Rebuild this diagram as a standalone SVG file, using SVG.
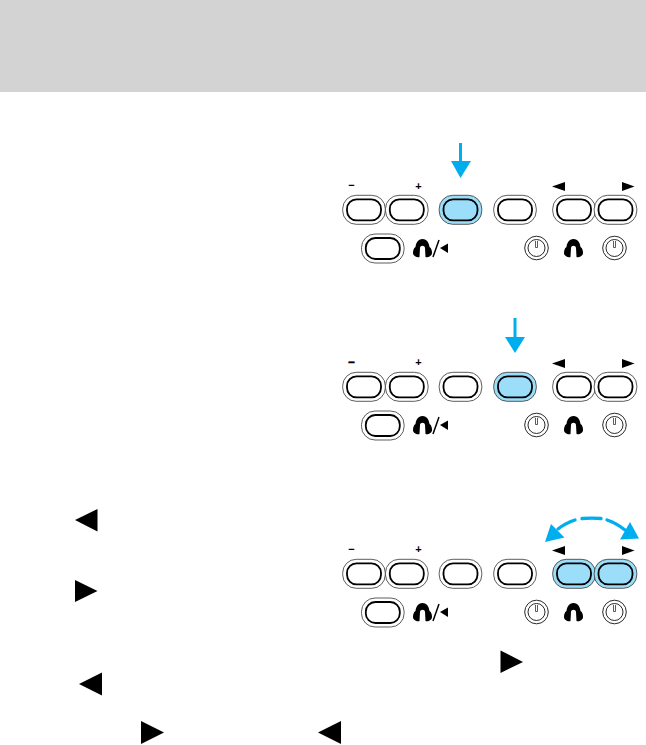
<svg xmlns="http://www.w3.org/2000/svg" width="646" height="745" viewBox="0 0 646 745">
<style>
.o{stroke:#333;stroke-width:.8}
.i{stroke:#000;stroke-width:1.800}
.off{fill:#fff}
.lit{fill:#9cdef9}
.k{fill:#000}
.b{fill:#00aeef}
.shaft{fill:none;stroke:#00aeef;stroke-width:3}
.arc{fill:none;stroke:#00aeef;stroke-width:3.300;stroke-linecap:round}
.sign{font-family:"Liberation Sans",Arial,sans-serif;font-weight:700;font-size:11px;text-anchor:middle;fill:#000}
.heavy{stroke:#000;stroke-width:.7}
.pw{fill:#fff;stroke:#111;stroke-width:.9}
</style>
<defs>
<g id="btn"><rect class="o off" x="-21.300" y="-14.500" width="42.600" height="29" rx="13.500"/><rect class="i off" x="-17" y="-10.500" width="34" height="21" rx="9.500"/></g>
<g id="btnon"><rect class="o lit" x="-21.300" y="-14.500" width="42.600" height="29" rx="13.500"/><rect class="i lit" x="-17" y="-10.500" width="34" height="21" rx="9.500"/></g>
<g id="pwr"><circle class="pw" r="11.800"/><circle class="pw" r="8.500"/><path d="M-1-7V-.5H1V-7" fill="none" stroke="#333" stroke-width=".8"/></g>
<path id="hp" d="M9.500 0C14 0 16 4 16.500 8C18.500 9 19 12 19 14C19 17 15 19 12.500 18L12 9C11.800 6 7.200 6 7 9L6.500 18C4 19 0 17 0 14C0 12 .5 9 2.500 8C3 4 5 0 9.500 0Z"/>
<g id="controls">
<path d="M552 186.500 565 182V191Z"/><path d="M634.500 186.500 622 182V191Z"/>
<use href="#hp" x="413" y="239"/><path d="M433 257 439 240" stroke="#000" stroke-width="1.500" fill="none"/><path d="M440 248 448 243.500V253Z"/>
<use href="#pwr" x="536.500" y="248"/><use href="#hp" x="564" y="239"/><use href="#pwr" x="614.500" y="248"/>
</g>
</defs>
<rect id="header" x="0" y="0" width="646" height="92" fill="#d3d3d3"/>
<g id="body-triangles" class="k">
<path d="M75 520 97.500 509V531.500Z"/><path d="M97.500 591 75 580V602Z"/>
<path d="M79 684 102 672.500V695.500Z"/><path d="M523 662 500.500 650.500V673Z"/>
<path d="M164 732.500 141 721V744Z"/><path d="M318 732.500 341 721V744Z"/>
</g>
<g id="panel1">
<use href="#controls"/>
<text class="sign" x="351.500" y="189">−</text><text class="sign" x="418.500" y="190">+</text>
<g id="p1-minus"><use href="#btn" x="364" y="209.800"/></g>
<g id="p1-plus"><use href="#btn" x="406.800" y="209.800"/></g>
<g id="p1-b3"><use href="#btnon" x="460.500" y="209.800"/></g>
<g id="p1-b4"><use href="#btn" x="515" y="209.800"/></g>
<g id="p1-left"><use href="#btn" x="574" y="209.800"/></g>
<g id="p1-right"><use href="#btn" x="615.500" y="209.800"/></g>
<g id="p1-b7"><use href="#btn" x="382.800" y="248.500"/></g>
</g>
<g id="panel2" transform="translate(0 177)">
<use href="#controls"/>
<text class="sign heavy" x="351.500" y="188.500">−</text><text class="sign" x="418.500" y="189">+</text>
<g id="p2-minus"><use href="#btn" x="364" y="209.800"/></g>
<g id="p2-plus"><use href="#btn" x="406.800" y="209.800"/></g>
<g id="p2-b3"><use href="#btn" x="460.500" y="209.800"/></g>
<g id="p2-b4"><use href="#btnon" x="515" y="209.800"/></g>
<g id="p2-left"><use href="#btn" x="574" y="209.800"/></g>
<g id="p2-right"><use href="#btn" x="615.500" y="209.800"/></g>
<g id="p2-b7"><use href="#btn" x="382.800" y="248.500"/></g>
</g>
<g id="panel3" transform="translate(0 364)">
<use href="#controls"/>
<text class="sign" x="351.500" y="188.500">−</text><text class="sign" x="418.500" y="189">+</text>
<g id="p3-minus"><use href="#btn" x="364" y="209.800"/></g>
<g id="p3-plus"><use href="#btn" x="406.800" y="209.800"/></g>
<g id="p3-b3"><use href="#btn" x="460.500" y="209.800"/></g>
<g id="p3-b4"><use href="#btn" x="515" y="209.800"/></g>
<g id="p3-left"><use href="#btnon" x="574" y="209.800"/></g>
<g id="p3-right"><use href="#btnon" x="615.500" y="209.800"/></g>
<g id="p3-b7"><use href="#btn" x="382.800" y="248.500"/></g>
</g>
<g id="connectors">
<path class="shaft" d="M460.500 143V164"/><path class="b" d="M451 161H471L460.500 178Z"/>
<path class="shaft" d="M515 318V340"/><path class="b" d="M505 337H525L515 353Z"/>
<path class="arc" d="M558 529C563 525 569 522 575 520M582 518.500C588 518 595 518 601 518.500M607 520C613 522 620 526 625 530"/>
<path class="b" d="M545 542 551 524 564.500 537.500Z"/><path class="b" d="M639 538.500 620 539.500 630 522Z"/>
</g>
</svg>
